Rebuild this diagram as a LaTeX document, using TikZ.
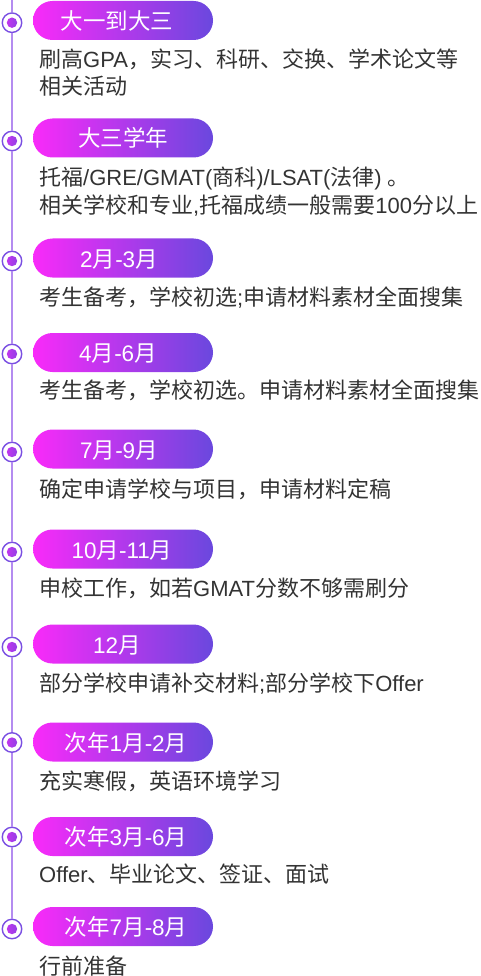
\documentclass[tikz,border=0pt]{standalone}
\usepackage{fontspec}
\setmainfont{Noto Sans CJK SC}
\newfontfamily\lat{Liberation Sans}
\definecolor{pinkL}{HTML}{F92AF9}
\definecolor{purpR}{HTML}{6A48DE}
\definecolor{linec}{HTML}{B48CF0}
\definecolor{ringc}{HTML}{7A4FE2}
\definecolor{txt}{HTML}{333333}
\tikzset{
  pill/.style={rectangle, rounded corners=19.5pt, minimum width=180pt, minimum height=39pt, inner sep=0pt, left color=pinkL, right color=purpR, draw=none},
  pilltext/.style={anchor=base, inner sep=0pt, text=white, font=\fontsize{22.5pt}{26pt}\selectfont},
  bullet/.style={circle, minimum size=19.5pt, inner sep=0pt, draw=ringc, line width=1.4pt, fill=white,
    path picture={\shade[left color=pinkL!75!purpR, right color=purpR!85!pinkL] (path picture bounding box.center) circle (5.2pt);}},
  desc/.style={anchor=base west, inner sep=0pt, text=txt, font=\fontsize{22pt}{24pt}\selectfont},
  timeline/.style={draw=linec, line width=1.5pt}
}
\begin{document}
\begin{tikzpicture}[x=1pt,y=-1pt]
\useasboundingbox (0,0) rectangle (480,976);
% bullets
\node[bullet] (b1) at (12,22.7) {};
\node[bullet] (b2) at (12,141) {};
\node[bullet] (b3) at (12,261) {};
\node[bullet] (b4) at (12,354) {};
\node[bullet] (b5) at (12,452) {};
\node[bullet] (b6) at (12,552) {};
\node[bullet] (b7) at (12,647) {};
\node[bullet] (b8) at (12,742.5) {};
\node[bullet] (b9) at (12,837) {};
\node[bullet] (b10) at (12,929) {};
\coordinate (top) at (12,0);
\draw[timeline] (top) -- (b1.north);
\draw[timeline] (b1.south) -- (b2.north);
\draw[timeline] (b2.south) -- (b3.north);
\draw[timeline] (b3.south) -- (b4.north);
\draw[timeline] (b4.south) -- (b5.north);
\draw[timeline] (b5.south) -- (b6.north);
\draw[timeline] (b6.south) -- (b7.north);
\draw[timeline] (b7.south) -- (b8.north);
\draw[timeline] (b8.south) -- (b9.north);
\draw[timeline] (b9.south) -- (b10.north);
% pills
\node[pill] (p1) at (123,20.5) {};
\node[pill] (p2) at (123,138) {};
\node[pill] (p3) at (123,258) {};
\node[pill] (p4) at (123,352.5) {};
\node[pill] (p5) at (123,449) {};
\node[pill] (p6) at (123,549) {};
\node[pill] (p7) at (123,644) {};
\node[pill] (p8) at (123,742) {};
\node[pill] (p9) at (123,836.5) {};
\node[pill] (p10) at (123,926.5) {};
\node[pilltext] (l1) at ([xshift=-6pt,yshift=-9pt]p1.center) {大一到大三};
\node[pilltext] (l2) at ([xshift=0pt,yshift=-9pt]p2.center) {大三学年};
\node[pilltext] (l3) at ([xshift=-4pt,yshift=-9pt]p3.center) {{\lat 2}月{\lat -3}月};
\node[pilltext] (l4) at ([xshift=-5pt,yshift=-9pt]p4.center) {{\lat 4}月{\lat -6}月};
\node[pilltext] (l5) at ([xshift=-4pt,yshift=-9pt]p5.center) {{\lat 7}月{\lat -9}月};
\node[pilltext] (l6) at ([xshift=-1pt,yshift=-9pt]p6.center) {{\lat 10}月{\lat -11}月};
\node[pilltext] (l7) at ([xshift=-6pt,yshift=-9pt]p7.center) {{\lat 12}月};
\node[pilltext] (l8) at ([xshift=3pt,yshift=-9pt]p8.center) {次年{\lat 1}月{\lat -2}月};
\node[pilltext] (l9) at ([xshift=3pt,yshift=-9pt]p9.center) {次年{\lat 3}月{\lat -6}月};
\node[pilltext] (l10) at ([xshift=3pt,yshift=-9pt]p10.center) {次年{\lat 7}月{\lat -8}月};
% descriptions
\node[desc] (d1a) at (39,67.5) {刷高{\lat GPA}，实习、科研、交换、学术论文等};
\node[desc] (d1b) at (39,94.5) {相关活动};
\node[desc] (d2a) at (39,186) {托福{\lat /GRE/GMAT(}商科{\lat )/LSAT(}法律{\lat ) }。};
\node[desc] (d2b) at (39,214) {相关学校和专业{\lat ,}托福成绩一般需要{\lat 100}分以上};
\node[desc] (d3) at (39,305.5) {考生备考，学校初选{\lat ;}申请材料素材全面搜集};
\node[desc] (d4) at (39,398.5) {考生备考，学校初选。申请材料素材全面搜集};
\node[desc] (d5) at (39,497.5) {确定申请学校与项目，申请材料定稿};
\node[desc] (d6) at (39,596.5) {申校工作，如若{\lat GMAT}分数不够需刷分};
\node[desc] (d7) at (39,691.5) {部分学校申请补交材料{\lat ;}部分学校下{\lat Offer}};
\node[desc] (d8) at (39,789.5) {充实寒假，英语环境学习};
\node[desc] (d9) at (39,882.5) {{\lat Offer}、毕业论文、签证、面试};
\node[desc] (d10) at (39,974.5) {行前准备};
\end{tikzpicture}
\end{document}
